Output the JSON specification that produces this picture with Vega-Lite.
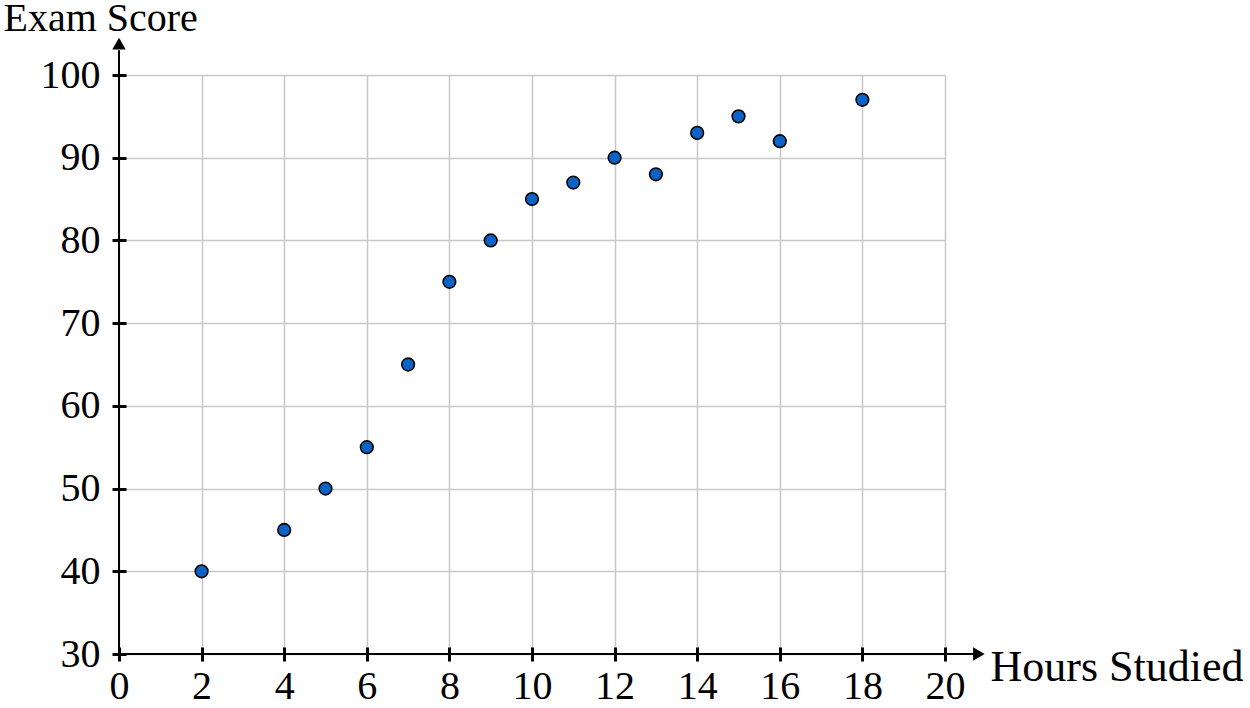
{
  "$schema": "https://vega.github.io/schema/vega-lite/v6.json",
  "width": 826,
  "height": 579,
  "autosize": "none",
  "padding": {"left": 119, "top": 75, "right": 305, "bottom": 54},
  "background": "white",
  "config": {
    "font": "Liberation Serif",
    "view": {"stroke": null},
    "axis": {
      "labelFont": "Liberation Serif",
      "titleFont": "Liberation Serif",
      "labelFontSize": 40,
      "titleFontSize": 44,
      "titleFontWeight": "normal",
      "labelColor": "black",
      "titleColor": "black",
      "tickColor": "black",
      "tickWidth": 3,
      "domain": false
    }
  },
  "data": {
    "values": [
      {"hours": 2, "score": 40},
      {"hours": 4, "score": 45},
      {"hours": 5, "score": 50},
      {"hours": 6, "score": 55},
      {"hours": 7, "score": 65},
      {"hours": 8, "score": 75},
      {"hours": 9, "score": 80},
      {"hours": 10, "score": 85},
      {"hours": 11, "score": 87},
      {"hours": 12, "score": 90},
      {"hours": 13, "score": 88},
      {"hours": 14, "score": 93},
      {"hours": 15, "score": 95},
      {"hours": 16, "score": 92},
      {"hours": 18, "score": 97}
    ]
  },
  "resolve": {"axis": {"x": "independent", "y": "independent"}},
  "layer": [
    {
      "mark": {"type": "point", "opacity": 0},
      "encoding": {
        "x": {
          "field": "hours", "type": "quantitative",
          "scale": {"domain": [0, 20], "nice": false},
          "axis": {
            "orient": "bottom",
            "values": [0, 2, 4, 6, 8, 10, 12, 14, 16, 18, 20],
            "grid": true, "gridColor": "#c8c8c8", "gridWidth": 1.5,
            "tickSize": 7, "labelPadding": 5,
            "labelFlush": false,
            "title": "Hours Studied",
            "titleX": 871, "titleY": 26,
            "titleAlign": "left", "titleAnchor": null, "titleBaseline": "alphabetic"
          }
        },
        "y": {
          "field": "score", "type": "quantitative",
          "scale": {"domain": [30, 100], "nice": false, "zero": false},
          "axis": {
            "orient": "left",
            "values": [30, 40, 50, 60, 70, 80, 90, 100],
            "grid": true, "gridColor": "#c8c8c8", "gridWidth": 1.5,
            "tickSize": 7, "labelPadding": 12,
            "labelFlush": false,
            "title": "Exam Score",
            "titleFontSize": 40,
            "titleAngle": 0,
            "titleX": -116, "titleY": -45,
            "titleAlign": "left", "titleAnchor": null, "titleBaseline": "alphabetic"
          }
        }
      }
    },
    {
      "mark": {"type": "point", "opacity": 0},
      "encoding": {
        "x": {
          "field": "hours", "type": "quantitative",
          "axis": {
            "orient": "bottom",
            "values": [0, 2, 4, 6, 8, 10, 12, 14, 16, 18, 20],
            "grid": false, "labels": false, "title": null,
            "tickSize": -7
          }
        },
        "y": {
          "field": "score", "type": "quantitative",
          "axis": {
            "orient": "left",
            "values": [30, 40, 50, 60, 70, 80, 90, 100],
            "grid": false, "labels": false, "title": null,
            "tickSize": -7
          }
        }
      }
    },
    {
      "data": {"values": [{}]},
      "mark": {"type": "rule", "stroke": "black", "strokeWidth": 2},
      "encoding": {
        "x": {"datum": 0, "type": "quantitative", "axis": null},
        "x2": {"datum": 20.7},
        "y": {"datum": 30, "type": "quantitative", "axis": null}
      }
    },
    {
      "data": {"values": [{}]},
      "mark": {"type": "rule", "stroke": "black", "strokeWidth": 2},
      "encoding": {
        "x": {"datum": 0, "type": "quantitative", "axis": null},
        "y": {"datum": 30, "type": "quantitative", "axis": null},
        "y2": {"datum": 103}
      }
    },
    {
      "data": {"values": [{}]},
      "mark": {"type": "point", "shape": "triangle-right", "filled": true, "color": "black", "opacity": 1, "size": 180},
      "encoding": {
        "x": {"datum": 20.82, "type": "quantitative", "axis": null},
        "y": {"datum": 30, "type": "quantitative", "axis": null}
      }
    },
    {
      "data": {"values": [{}]},
      "mark": {"type": "point", "shape": "triangle-up", "filled": true, "color": "black", "opacity": 1, "size": 180},
      "encoding": {
        "x": {"datum": 0, "type": "quantitative", "axis": null},
        "y": {"datum": 103.8, "type": "quantitative", "axis": null}
      }
    },
    {
      "mark": {"type": "point", "shape": "circle", "filled": true, "fill": "#0a64c8", "stroke": "black", "strokeWidth": 1.6, "opacity": 1, "size": 160},
      "encoding": {
        "x": {"field": "hours", "type": "quantitative", "axis": null},
        "y": {"field": "score", "type": "quantitative", "axis": null}
      }
    }
  ]
}
